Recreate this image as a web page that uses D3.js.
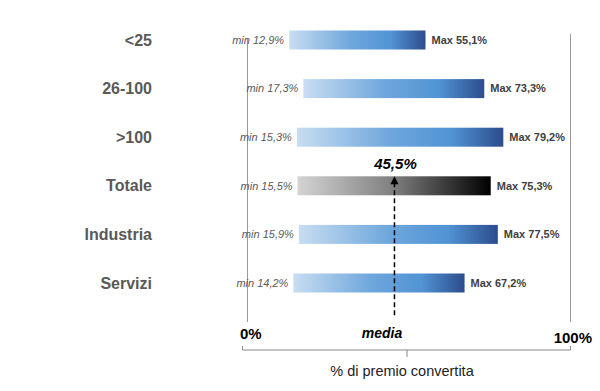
<!DOCTYPE html>
<html>
<head>
<meta charset="utf-8">
<script src="https://cdn.jsdelivr.net/npm/d3@7"></script>
<style>
  body { margin: 0; background: #fff; }
  svg { font-family: "Liberation Sans", Arial, sans-serif; }
</style>
</head>
<body>
<div id="chart"></div>
<script>
// data
const categories = ["<25", "26-100", ">100", "Totale", "Industria", "Servizi"];
const minValues = [12.9, 17.3, 15.3, 15.5, 15.9, 14.2];
const maxValues = [55.1, 73.3, 79.2, 75.3, 77.5, 67.2];
const mediaValue = 45.5;
const fmt = v => v.toFixed(1).replace(".", ",") + "%";

const width = 600, height = 391;

const svg = d3.select("#chart").append("svg")
  .attr("width", width)
  .attr("height", height);

let x = d3.scaleLinear().domain([0, 100]).range([247.5, 570.5]);
let y = d3.scalePoint().domain(categories).range([40, 283]);
const barH = 19;

const defs = svg.append("defs");
let blue = defs.append("linearGradient").attr("id", "gBlue");
blue.append("stop").attr("offset", "0%").attr("stop-color", "#c8ddf2");
blue.append("stop").attr("offset", "45%").attr("stop-color", "#6fa7dc");
blue.append("stop").attr("offset", "75%").attr("stop-color", "#5193d4");
blue.append("stop").attr("offset", "100%").attr("stop-color", "#2c4c8c");
let grey = defs.append("linearGradient").attr("id", "gGrey");
grey.append("stop").attr("offset", "0%").attr("stop-color", "#d4d4d4");
grey.append("stop").attr("offset", "50%").attr("stop-color", "#7e7e7e");
grey.append("stop").attr("offset", "100%").attr("stop-color", "#000");

// side reference lines at 0% and 100%
svg.append("line")
  .attr("x1", x(0)).attr("x2", x(0)).attr("y1", 38).attr("y2", 322)
  .attr("stroke", "#999").attr("stroke-width", 1);
svg.append("line")
  .attr("x1", x(100)).attr("x2", x(100)).attr("y1", 34).attr("y2", 322)
  .attr("stroke", "#999").attr("stroke-width", 1);

// category labels
svg.selectAll(".cat")
  .data(categories)
  .enter().append("text")
  .attr("x", 152)
  .attr("y", d => y(d))
  .attr("dy", "0.35em")
  .attr("text-anchor", "end")
  .style("font-size", "16px")
  .style("font-weight", "bold")
  .style("fill", "#595959")
  .text(d => d);

// bars
svg.selectAll(".bar")
  .data(categories)
  .enter().append("rect")
  .attr("x", (d, i) => x(minValues[i]))
  .attr("y", d => y(d) - barH / 2)
  .attr("width", (d, i) => x(maxValues[i]) - x(minValues[i]))
  .attr("height", barH)
  .attr("fill", d => d == "Totale" ? "url(#gGrey)" : "url(#gBlue)");

// min labels
svg.selectAll(".minl")
  .data(categories)
  .enter().append("text")
  .attr("x", (d, i) => x(minValues[i]) - 5)
  .attr("y", d => y(d))
  .attr("dy", "0.35em")
  .attr("text-anchor", "end")
  .style("font-size", "11px")
  .style("font-style", "italic")
  .style("fill", "#595959")
  .text((d, i) => "min " + fmt(minValues[i]));

// max labels
svg.selectAll(".maxl")
  .data(categories)
  .enter().append("text")
  .attr("x", (d, i) => x(maxValues[i]) + 6)
  .attr("y", d => y(d))
  .attr("dy", "0.35em")
  .style("font-size", "11px")
  .style("font-weight", "bold")
  .style("fill", "#404040")
  .text((d, i) => "Max " + fmt(maxValues[i]));

// media arrow, dashed
let tot = y("Totale") - barH / 2;
svg.append("line")
  .attr("x1", x(mediaValue)).attr("x2", x(mediaValue))
  .attr("y1", tot + 6).attr("y2", 317)
  .attr("stroke", "#000").attr("stroke-width", 1.5)
  .attr("stroke-dasharray", "5,3");
svg.append("path")
  .attr("d", d3.line()([[x(mediaValue) - 4, tot + 8], [x(mediaValue), tot], [x(mediaValue) + 4, tot + 8]]) + "Z")
  .attr("fill", "#000");

svg.append("text")
  .attr("x", x(mediaValue) + 1)
  .attr("y", tot - 13)
  .attr("text-anchor", "middle")
  .attr("dy", "0.35em")
  .style("font-size", "15px")
  .style("font-weight", "bold")
  .style("font-style", "italic")
  .text(fmt(mediaValue));

svg.append("text")
  .attr("x", 382)
  .attr("y", 333)
  .attr("dy", "0.35em")
  .attr("text-anchor", "middle")
  .style("font-size", "14px")
  .style("font-weight", "bold")
  .style("font-style", "italic")
  .text("media");

svg.append("text")
  .attr("x", 240).attr("y", 334).attr("dy", "0.35em")
  .style("font-size", "15px").style("font-weight", "bold")
  .text("0%");
svg.append("text")
  .attr("x", 592).attr("y", 338).attr("dy", "0.35em")
  .attr("text-anchor", "end")
  .style("font-size", "15px").style("font-weight", "bold")
  .text("100%");

// bottom bracket
svg.append("path")
  .attr("d", "M242.5,346V350H" + x(100) + "V346M407,350V357")
  .attr("fill", "none")
  .attr("stroke", "#888").attr("stroke-width", 1);

svg.append("text")
  .attr("x", 402).attr("y", 371).attr("dy", "0.35em")
  .attr("text-anchor", "middle")
  .style("font-size", "14.5px")
  .style("fill", "#222")
  .text("% di premio convertita");
</script>
</body>
</html>
